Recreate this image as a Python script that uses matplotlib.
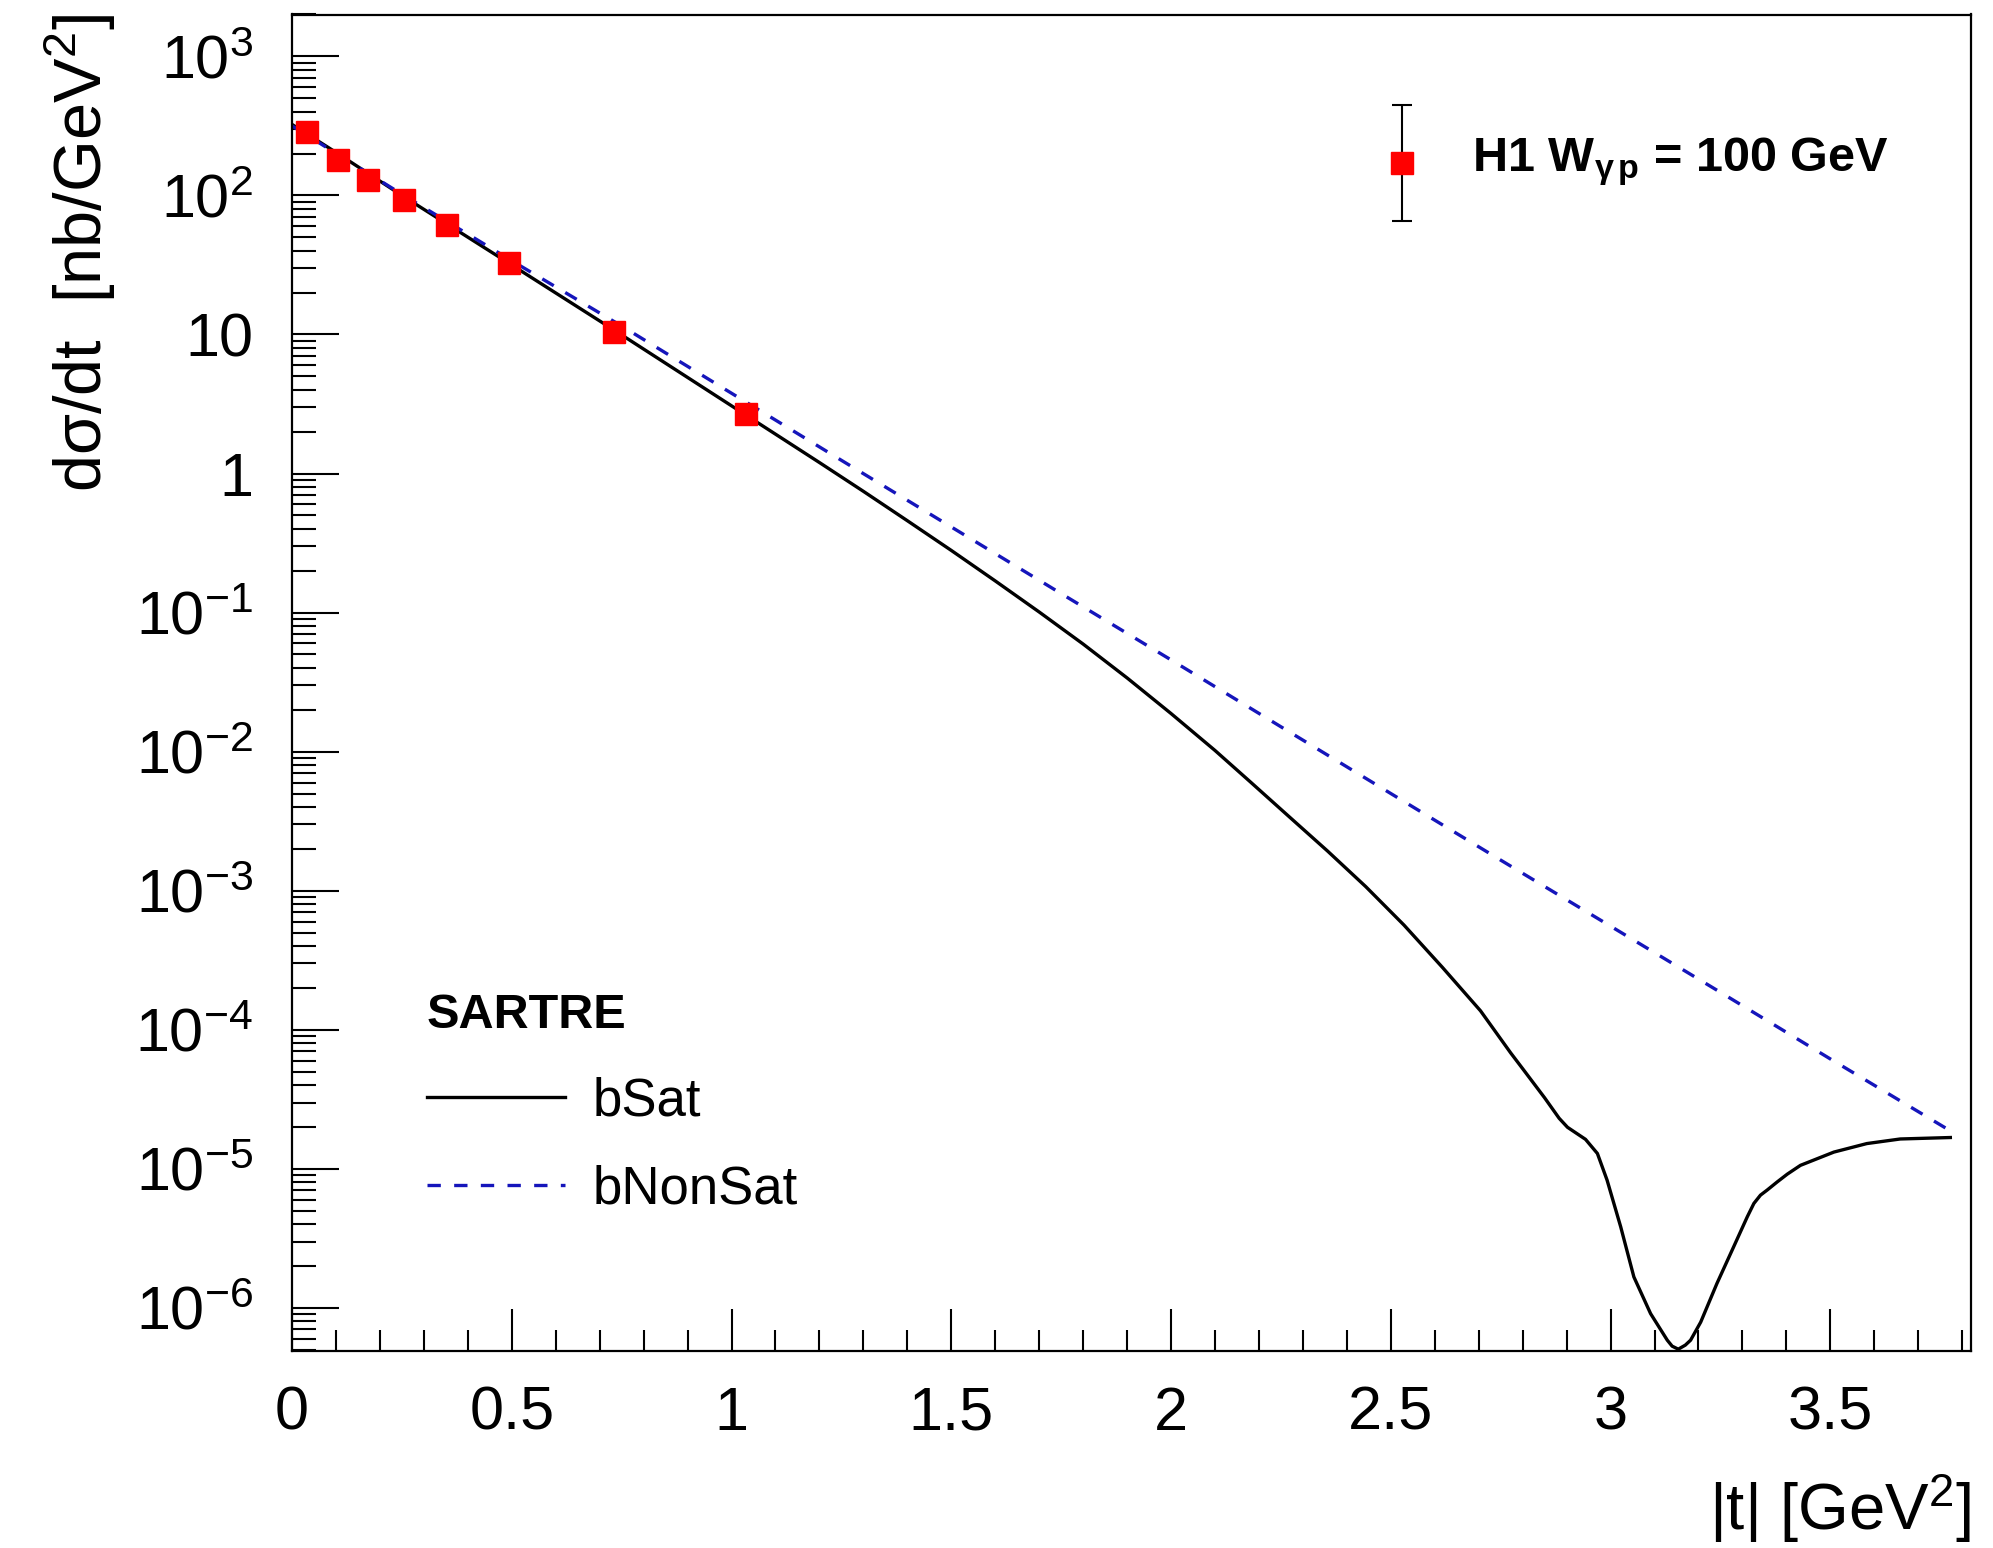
import matplotlib
matplotlib.use('Agg')
import matplotlib.pyplot as plt
from matplotlib.ticker import FixedLocator, FixedFormatter, MultipleLocator, LogLocator, NullFormatter

plt.rcParams['font.family'] = 'Liberation Sans'
plt.rcParams['mathtext.fontset'] = 'custom'
plt.rcParams['mathtext.rm'] = 'Liberation Sans'
plt.rcParams['mathtext.it'] = 'Liberation Sans:italic'
plt.rcParams['mathtext.bf'] = 'Liberation Sans:bold'
plt.rcParams['mathtext.default'] = 'regular'

# H1 J/psi photoproduction, W = 100 GeV
t_h1 = [0.033, 0.104, 0.174, 0.254, 0.353, 0.493, 0.732, 1.032]
dsdt_h1 = [286.0, 180.0, 130.0, 92.0, 61.0, 32.4, 10.5, 2.67]
err_h1 = [25.0, 15.0, 11.0, 8.0, 5.0, 2.8, 1.0, 0.25]

# Sartre, bSat dipole model
t_bsat = [0.0, 0.1, 0.25, 0.5, 0.75, 0.9, 1.0, 1.1, 1.2, 1.3,
          1.4, 1.5, 1.6, 1.7, 1.8, 1.9, 2.0, 2.1, 2.182, 2.269,
          2.356, 2.443, 2.53, 2.617, 2.704, 2.773, 2.8, 2.85, 2.883, 2.902,
          2.943, 2.97, 2.992, 3.023, 3.053, 3.091, 3.129, 3.14, 3.154, 3.17,
          3.182, 3.205, 3.242, 3.28, 3.311, 3.326, 3.341, 3.356, 3.379, 3.402,
          3.432, 3.508, 3.583, 3.659, 3.773]
dsdt_bsat = [324.0, 204.0, 100.0, 31.6, 9.93, 4.91, 3.07, 1.92, 1.20, 0.745,
             0.458, 0.280, 0.169, 0.101, 0.0594, 0.0339, 0.0188, 0.0102, 6.0e-3, 3.40e-3,
             1.93e-3, 1.07e-3, 5.66e-4, 2.82e-4, 1.37e-4, 6.8e-5, 5.25e-5, 3.24e-5, 2.31e-5, 1.99e-5,
             1.63e-5, 1.29e-5, 8.3e-6, 3.83e-6, 1.67e-6, 9.1e-7, 5.86e-7, 5.31e-7, 5.05e-7, 5.40e-7,
             5.86e-7, 7.9e-7, 1.5e-6, 2.75e-6, 4.52e-6, 5.64e-6, 6.47e-6, 7.03e-6, 8.05e-6, 9.16e-6,
             1.06e-5, 1.32e-5, 1.52e-5, 1.64e-5, 1.68e-5]

# Sartre, bNonSat dipole model
t_bnonsat = [0.0, 0.25, 0.5, 0.75, 1.0, 1.25, 1.5, 1.75, 2.0, 2.25,
             2.5, 2.75, 3.0, 3.25, 3.5, 3.775]
dsdt_bnonsat = [316.0, 102.0, 33.9, 11.5, 3.78, 1.245, 0.413, 0.137, 0.0457, 0.0151,
                5.0e-3, 1.66e-3, 5.56e-4, 1.86e-4, 6.17e-5, 1.86e-5]

xtick_vals = [0, 0.5, 1, 1.5, 2, 2.5, 3, 3.5]
xtick_labels = ['0', '0.5', '1', '1.5', '2', '2.5', '3', '3.5']
ytick_vals = [1e3, 1e2, 1e1, 1e0, 1e-1, 1e-2, 1e-3, 1e-4, 1e-5, 1e-6]
ytick_labels = ['$10^{3}$', '$10^{2}$', '10', '1', '$10^{-1}$', '$10^{-2}$',
                '$10^{-3}$', '$10^{-4}$', '$10^{-5}$', '$10^{-6}$']

fig = plt.figure(figsize=(19.93, 15.48), dpi=100)
ax = fig.add_axes([292 / 1993, 1 - 1351 / 1548, 1679 / 1993, 1336.5 / 1548])

l_sat, = ax.plot(t_bsat, dsdt_bsat, color='black', lw=2.4, zorder=2)
l_non, = ax.plot(t_bnonsat, dsdt_bnonsat, color='#1515bb', lw=2.4, dashes=(4, 4), zorder=2)
ax.errorbar(t_h1, dsdt_h1, yerr=err_h1, fmt='s', color='red', ms=15.5,
            ecolor='black', elinewidth=1.5, capsize=7, capthick=1.5, zorder=3)

ax.set_yscale('log')
ax.set_xlim(0, 3.82)
ax.set_ylim(4.9e-7, 2000)

for s in ax.spines.values():
    s.set_linewidth(1.6)

ax.xaxis.set_major_locator(FixedLocator(xtick_vals))
ax.xaxis.set_major_formatter(FixedFormatter(xtick_labels))
ax.xaxis.set_minor_locator(MultipleLocator(0.1))
ax.yaxis.set_major_locator(FixedLocator(ytick_vals))
ax.yaxis.set_major_formatter(FixedFormatter(ytick_labels))
ax.yaxis.set_minor_locator(LogLocator(base=10, subs=range(2, 10), numticks=30))
ax.yaxis.set_minor_formatter(NullFormatter())

ax.tick_params(which='both', direction='in', top=False, right=False, width=1.5)
ax.tick_params(axis='x', which='major', length=30, pad=25, labelsize=44)
ax.tick_params(axis='x', which='minor', length=15)
ax.tick_params(axis='y', which='major', length=34, pad=28, labelsize=44)
ax.tick_params(axis='y', which='minor', length=17)

ax.set_ylabel('d\u03c3/dt  [nb/GeV$^{2}$]', fontsize=48, loc='top')
ax.yaxis.set_label_coords(-0.1132, 1.0)
ax.yaxis.label.set_va('baseline')
ax.set_xlabel('|t| [GeV$^{2}$]', fontsize=47, loc='right')
ax.xaxis.set_label_coords(1.0, -0.134)
ax.xaxis.label.set_va('baseline')

# key for the H1 points, drawn in axes coordinates
ax.errorbar([0.661], [0.889], yerr=[0.0434], fmt='s', color='red', ms=15.5,
            ecolor='black', elinewidth=1.5, capsize=7, capthick=1.5,
            transform=ax.transAxes, clip_on=False, zorder=4)
ax.text(0.7028, 0.8824, 'H1 W$_{\u03b3\\,p}$ = 100 GeV', transform=ax.transAxes,
        fontsize=35, fontweight='bold', ha='left', va='baseline')

ax.legend([l_sat, l_non], ['bSat', 'bNonSat'], title='SARTRE',
          title_fontproperties={'weight': 'bold', 'size': 35}, alignment='left',
          loc='upper left', bbox_to_anchor=(0.0804, 0.2682), frameon=False,
          fontsize=38, handlelength=2.61, handletextpad=0.52, labelspacing=0.73,
          borderpad=0, borderaxespad=0)

fig.savefig('out.png', dpi=100)
